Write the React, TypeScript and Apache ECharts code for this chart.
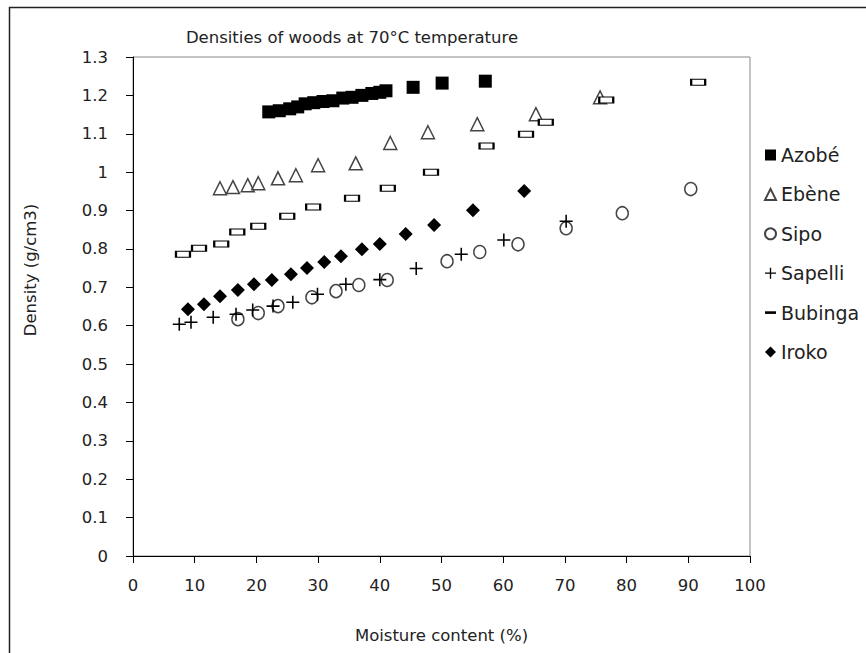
import React, { useEffect, useRef } from "react";
import * as echarts from "echarts";

const titleText = "Densities of woods at 70°C temperature";
const xAxisName = "Moisture content (%)";
const yAxisName = "Density (g/cm3)";

const azobeX = [22.0, 23.7, 25.4, 26.7, 27.9, 29.3, 30.8, 32.4, 34.0, 35.5, 37.1, 38.7, 40.0, 41.0, 45.4, 50.1, 57.1];
const azobeY = [1.157, 1.16, 1.165, 1.17, 1.178, 1.181, 1.184, 1.186, 1.193, 1.195, 1.2, 1.205, 1.208, 1.212, 1.221, 1.232, 1.237];

const ebeneX = [14.1, 16.2, 18.6, 20.3, 23.5, 26.4, 30.0, 36.1, 41.7, 47.8, 55.8, 65.3, 75.7];
const ebeneY = [0.958, 0.961, 0.966, 0.971, 0.984, 0.992, 1.018, 1.023, 1.076, 1.104, 1.125, 1.151, 1.195];

const sipoX = [17.0, 20.3, 23.5, 29.0, 32.9, 36.6, 41.2, 50.9, 56.2, 62.4, 70.2, 79.3, 90.4];
const sipoY = [0.617, 0.633, 0.651, 0.674, 0.69, 0.706, 0.719, 0.768, 0.792, 0.812, 0.854, 0.893, 0.956];

const sapelliX = [7.5, 9.4, 13.0, 16.7, 19.4, 22.7, 25.9, 29.9, 34.5, 40.0, 45.9, 53.2, 60.1, 70.2];
const sapelliY = [0.604, 0.609, 0.622, 0.63, 0.641, 0.651, 0.661, 0.682, 0.708, 0.72, 0.749, 0.786, 0.823, 0.872];

const bubingaX = [8.1, 10.7, 14.3, 16.9, 20.3, 25.0, 29.2, 35.5, 41.3, 48.3, 57.3, 63.7, 66.9, 76.7, 91.6];
const bubingaY = [0.786, 0.802, 0.813, 0.844, 0.859, 0.885, 0.909, 0.932, 0.958, 1.0, 1.068, 1.099, 1.13, 1.188, 1.234];

const irokoX = [8.9, 11.5, 14.1, 17.0, 19.6, 22.5, 25.6, 28.2, 31.0, 33.7, 37.1, 40.0, 44.2, 48.8, 55.1, 63.4];
const irokoY = [0.643, 0.656, 0.677, 0.693, 0.708, 0.719, 0.734, 0.75, 0.766, 0.781, 0.799, 0.813, 0.839, 0.862, 0.901, 0.951];

const FONT = "DejaVu Sans";
const PLUS = "path://M0,4.4H10V5.6H0ZM4.4,0H5.6V10H4.4Z";
const DASH = "path://M0,0H10V2.4H0Z";

const pts = (xs: number[], ys: number[]) => xs.map((x, i) => [x, ys[i]]);

export default function App() {
  const ref = useRef<HTMLDivElement>(null);
  useEffect(() => {
    if (!ref.current) return;
    const chart = echarts.init(ref.current, undefined, { renderer: "svg" });
    const axisCommon = {
      type: "value" as const,
      axisLine: { show: true, onZero: false, lineStyle: { color: "#000", width: 1 } },
      axisTick: { show: true, length: 7, lineStyle: { color: "#000", width: 1 } },
      splitLine: { show: false },
    };
    chart.setOption({
      animation: false,
      textStyle: { fontFamily: FONT },
      grid: {
        left: 133,
        top: 57,
        right: 116,
        bottom: 97,
        show: true,
        borderColor: "#888",
        borderWidth: 1,
        backgroundColor: "transparent",
      },
      xAxis: {
        ...axisCommon,
        min: 0,
        max: 100,
        interval: 10,
        axisLabel: { color: "#222", fontSize: 16.5, margin: 21, fontFamily: FONT },
        name: xAxisName,
        nameLocation: "middle",
        nameGap: 71,
        nameTextStyle: { color: "#222", fontSize: 16.5, fontFamily: FONT },
      },
      yAxis: {
        ...axisCommon,
        min: 0,
        max: 1.3,
        interval: 0.1,
        axisLabel: {
          color: "#222",
          fontSize: 16.5,
          margin: 25,
          fontFamily: FONT,
          formatter: (v: number) => String(Math.round(v * 10) / 10),
        },
      },
      legend: {
        orient: "vertical",
        left: 759,
        top: 140,
        itemWidth: 11,
        itemHeight: 11,
        itemGap: 19.4,
        textStyle: { color: "#222", fontSize: 19, lineHeight: 20, fontFamily: FONT },
        data: [
          { name: "Azobé", icon: "rect" },
          { name: "Ebène", icon: "triangle" },
          { name: "Sipo", icon: "circle" },
          { name: "Sapelli", icon: PLUS },
          { name: "Bubinga", icon: DASH, itemStyle: { color: "#000", borderWidth: 0 } },
          { name: "Iroko", icon: "diamond" },
        ],
      },
      graphic: [
        {
          type: "rect",
          shape: { x: 9.5, y: 7.5, width: 900, height: 700 },
          style: { fill: "none", stroke: "#222", lineWidth: 1.5 },
          silent: true,
        },
        {
          type: "text",
          x: 352,
          y: 37,
          style: {
            text: titleText,
            font: `16.5px "${FONT}"`,
            fill: "#222",
            align: "center",
            verticalAlign: "middle",
          },
        },
        {
          type: "text",
          x: 30,
          y: 270,
          rotation: Math.PI / 2,
          style: {
            text: yAxisName,
            font: `16.5px "${FONT}"`,
            fill: "#222",
            align: "center",
            verticalAlign: "middle",
          },
        },
      ],
      series: [
        {
          name: "Azobé",
          type: "scatter",
          symbol: "rect",
          symbolSize: 13,
          itemStyle: { color: "#000", opacity: 1 },
          data: pts(azobeX, azobeY),
        },
        {
          name: "Ebène",
          type: "scatter",
          symbol: "triangle",
          symbolSize: [13, 13],
          itemStyle: { color: "transparent", borderColor: "#444", borderWidth: 1.5, opacity: 1 },
          data: pts(ebeneX, ebeneY),
        },
        {
          name: "Sipo",
          type: "scatter",
          symbol: "circle",
          symbolSize: [12, 13],
          itemStyle: { color: "transparent", borderColor: "#444", borderWidth: 1.5, opacity: 1 },
          data: pts(sipoX, sipoY),
        },
        {
          name: "Sapelli",
          type: "scatter",
          symbol: PLUS,
          symbolSize: 13,
          itemStyle: { color: "#000", opacity: 1 },
          data: pts(sapelliX, sapelliY),
        },
        {
          name: "Bubinga",
          type: "scatter",
          symbol: "rect",
          symbolSize: [14, 6],
          itemStyle: { color: "#fff", borderColor: "#000", borderWidth: 1.5, opacity: 1 },
          data: pts(bubingaX, bubingaY),
        },
        {
          name: "Iroko",
          type: "scatter",
          symbol: "diamond",
          symbolSize: 14,
          itemStyle: { color: "#000", opacity: 1 },
          data: pts(irokoX, irokoY),
        },
      ],
    });
    return () => chart.dispose();
  }, []);
  return (
    <div
      ref={ref}
      style={{ position: "fixed", left: 0, top: 0, width: 866, height: 653, background: "#fff" }}
    />
  );
}
